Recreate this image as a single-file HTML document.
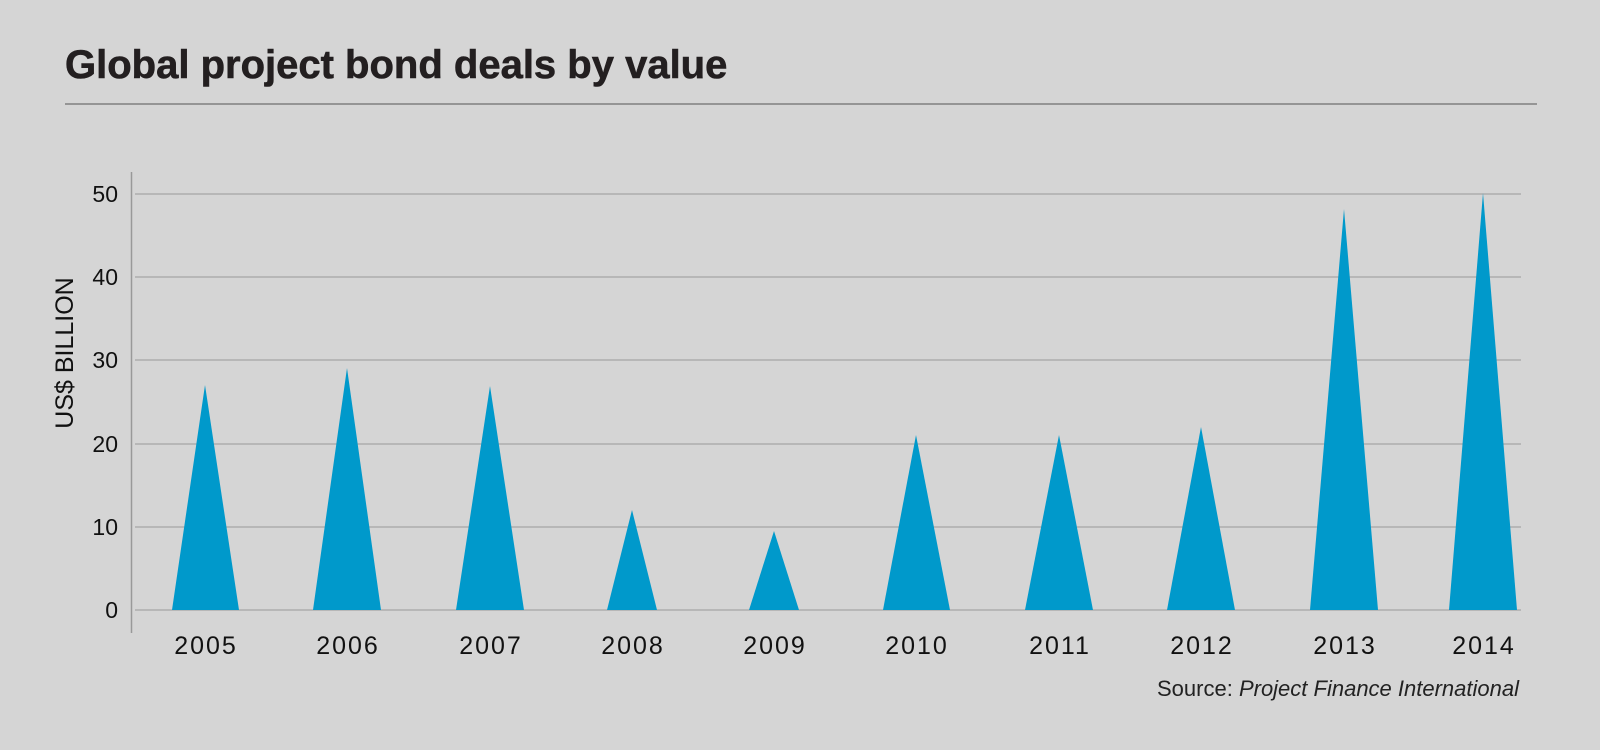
<!DOCTYPE html>
<html><head><style>
body{margin:0;width:1600px;height:745px;background:#d5d5d5;overflow:hidden;font-family:"Liberation Sans",sans-serif;}
</style></head><body>
<svg width="1600" height="745" xmlns="http://www.w3.org/2000/svg" font-family="Liberation Sans, sans-serif">
<rect width="1600" height="745" fill="#d5d5d5"/>
<text x="65" y="78" font-size="40" font-weight="bold" fill="#231f20" stroke="#231f20" stroke-width="0.6">Global project bond deals by value</text>
<line x1="65" y1="104" x2="1537" y2="104" stroke="#555" stroke-width="1"/>
<line x1="131.5" y1="172" x2="131.5" y2="633" stroke="#999" stroke-width="1.5"/>
<g stroke="#999" stroke-width="1">
<line x1="135" y1="194" x2="1521" y2="194"/>
<line x1="135" y1="277" x2="1521" y2="277"/>
<line x1="135" y1="360" x2="1521" y2="360"/>
<line x1="135" y1="444" x2="1521" y2="444"/>
<line x1="135" y1="527" x2="1521" y2="527"/>
<line x1="135" y1="610" x2="1521" y2="610"/>
</g>
<g font-size="23" fill="#111" text-anchor="end">
<text x="118" y="202">50</text><text x="118" y="285">40</text><text x="118" y="368">30</text>
<text x="118" y="452">20</text><text x="118" y="535">10</text><text x="118" y="618">0</text>
</g>
<text transform="translate(73,353) rotate(-90)" font-size="25" fill="#111" text-anchor="middle">US$ BILLION</text>
<g fill="#0099cb">
<polygon points="172,610 205,385 239,610"/>
<polygon points="313,610 347,368 381,610"/>
<polygon points="456,610 490,386 524,610"/>
<polygon points="607,610 632,510 657,610"/>
<polygon points="749,610 774,531 799,610"/>
<polygon points="883,610 916,435 950,610"/>
<polygon points="1025,610 1059,435 1093,610"/>
<polygon points="1167,610 1201,427 1235,610"/>
<polygon points="1310,610 1344,209 1378,610"/>
<polygon points="1449,610 1483,193 1517,610"/>
</g>
<g font-size="25" fill="#111" text-anchor="middle" letter-spacing="2">
<text x="206" y="654">2005</text><text x="348" y="654">2006</text><text x="491" y="654">2007</text>
<text x="633" y="654">2008</text><text x="775" y="654">2009</text><text x="917" y="654">2010</text>
<text x="1060" y="654">2011</text><text x="1202" y="654">2012</text><text x="1345" y="654">2013</text>
<text x="1484" y="654">2014</text>
</g>
<text x="1519" y="696" font-size="22" fill="#222" text-anchor="end">Source: <tspan font-style="italic">Project Finance International</tspan></text>
</svg>
</body></html>
